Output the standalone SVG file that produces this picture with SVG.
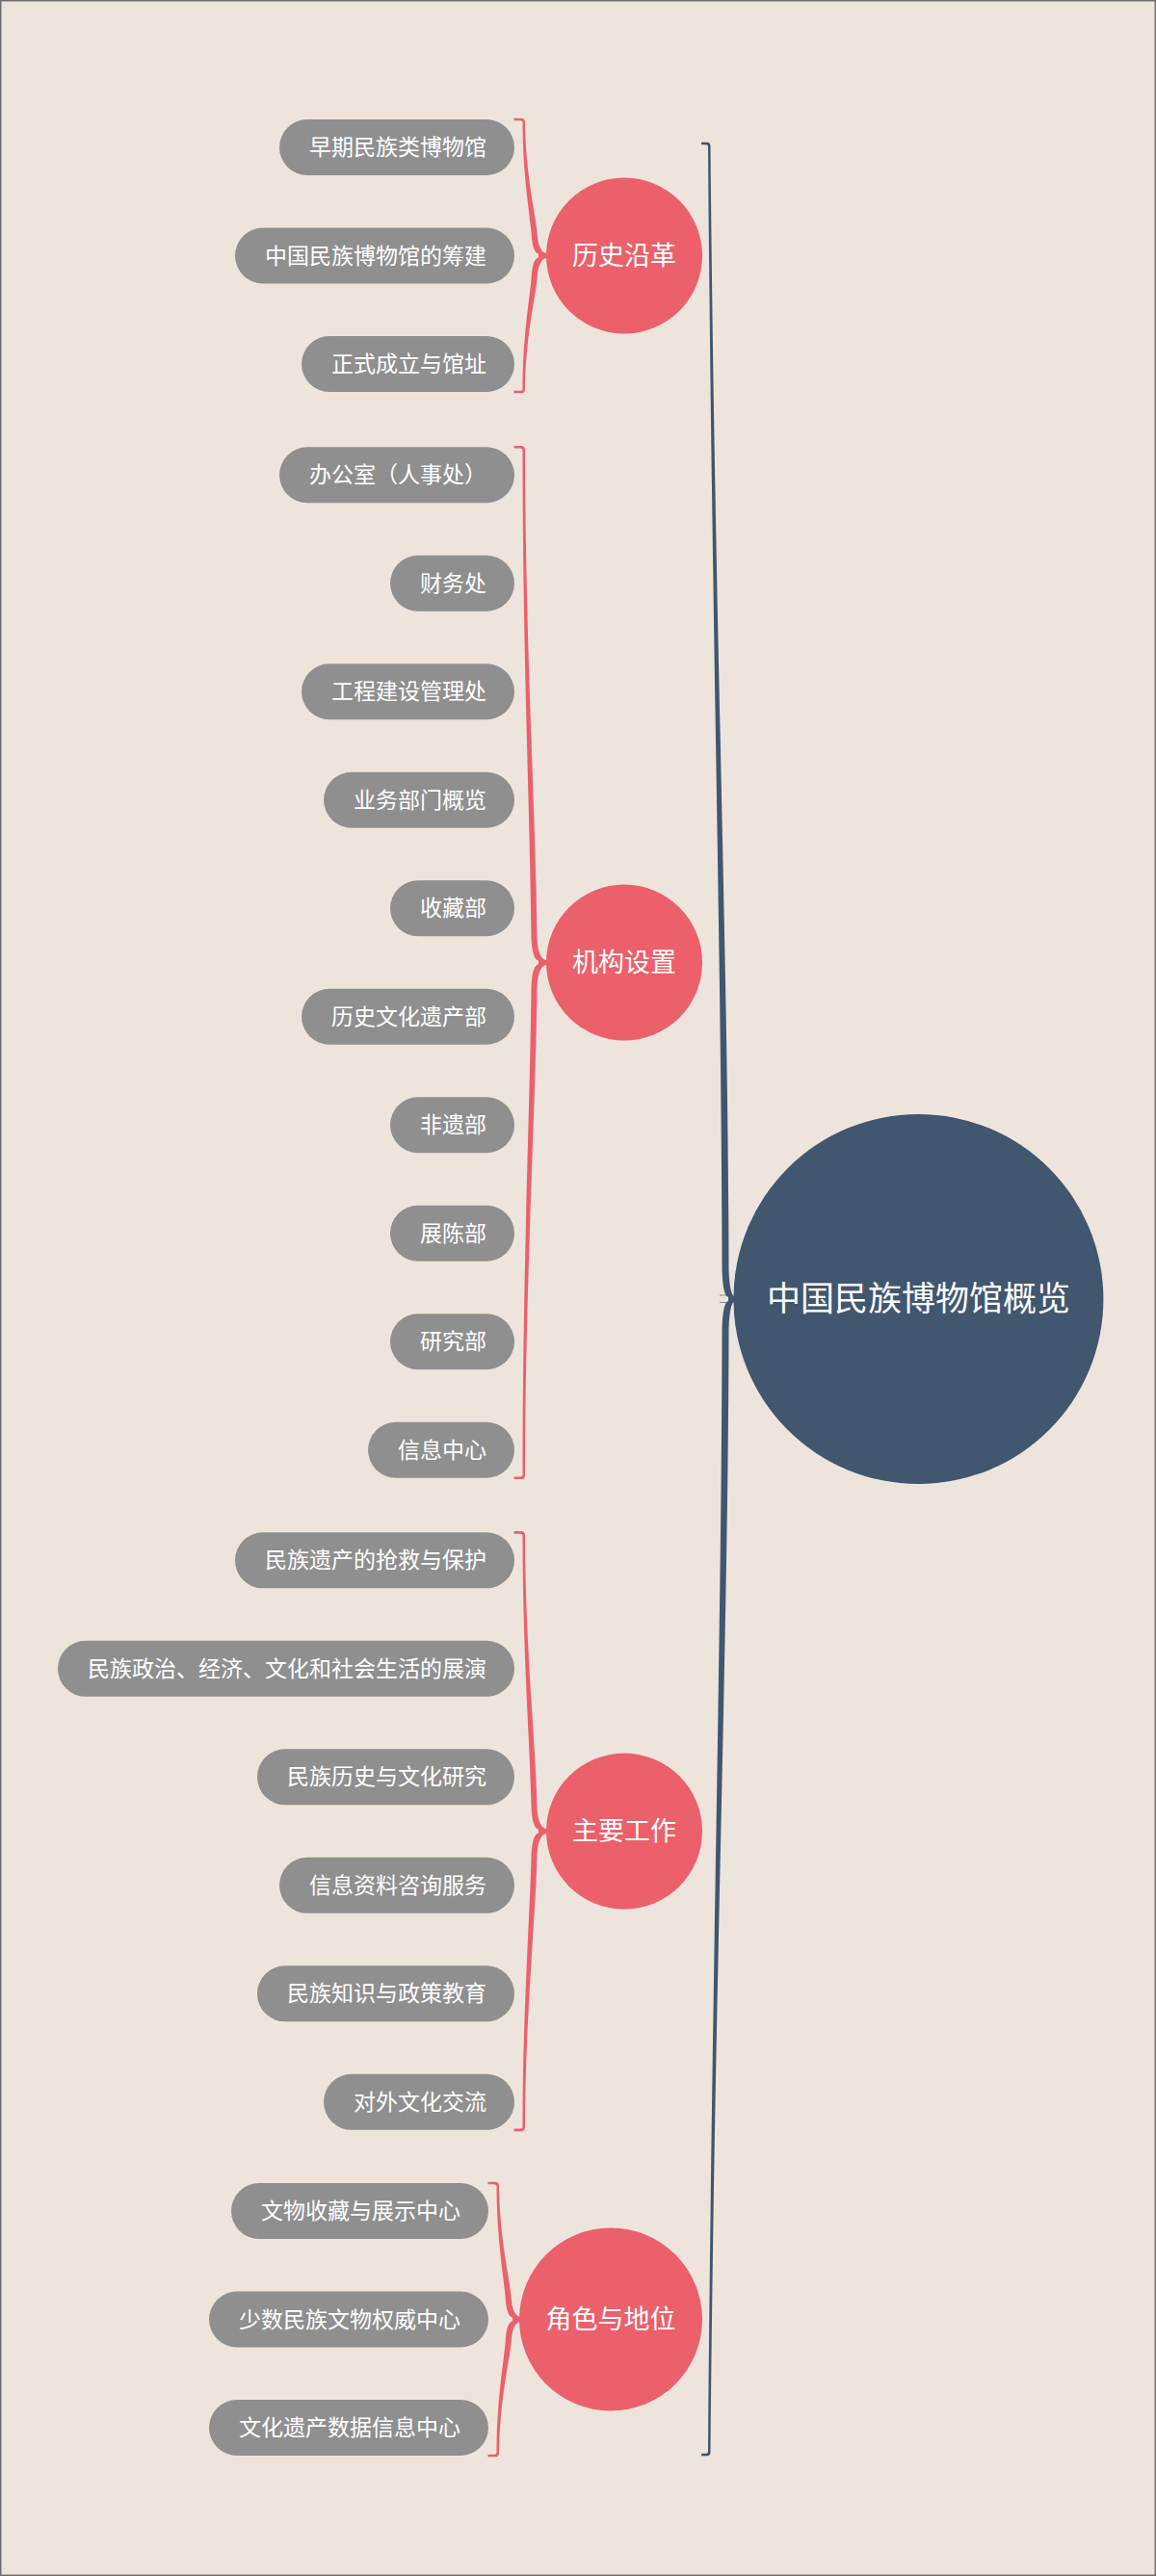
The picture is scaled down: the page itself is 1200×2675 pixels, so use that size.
<svg xmlns="http://www.w3.org/2000/svg" width="1200" height="2675" viewBox="0 0 1200 2675">
<style>
.bg{fill:#EDE5DC}
.frame{fill:none;stroke:#6e6e6e;stroke-width:1.5}
.pill{fill:#8F8F8F}
.pt{fill:#FFFFFF;font-family:"Noto Sans CJK SC","Noto Sans",sans-serif;font-size:23px;text-anchor:end}
.topic{fill:#EB606B}
.tt{fill:#FFFFFF;font-family:"Noto Sans CJK SC","Noto Sans",sans-serif;font-size:27px;text-anchor:middle}
.root{fill:#41566F}
.rt{fill:#FFFFFF;font-family:"Noto Sans CJK SC","Noto Sans",sans-serif;font-size:35px;text-anchor:middle}
.rb{fill:#EB606B}
.bb{fill:#41566F}
</style>
<rect class="bg" x="0" y="0" width="1200" height="2675"/>
<rect class="frame" x="0.75" y="0.75" width="1198.5" height="2673.5"/>

<g id="connectors">
  <path class="bb" transform="translate(0,1349)" d="M728,-1201.3 L734,-1201.3 Q737.5,-1201.3 737.5,-1197 C742,-700 756,-350 756.5,-30 Q757.5,-3 763,-2.5 L763,2.5 Q757.5,3 756.5,30 C756,350 742,700 737.5,1197 Q737.5,1201.3 734,1201.3 L728,1201.3 L728,1198.7 L733,1198.7 Q735,1198.7 735,1197 C739,700 749,350 749.5,30 Q750.5,3 756,2 L756,-2 Q750.5,-3 749.5,-30 C749,-350 739,-700 735,-1197 Q735,-1198.7 733,-1198.7 L728,-1198.7 Z"/>
  <path d="M747,1345 L757,1345 M747,1352.5 L757,1352.5" stroke="#41566F" stroke-width="1" opacity="0.6"/>
  <path class="rb" transform="translate(0,265.5)" d="M533.5,-142.8 L541,-142.8 Q545,-142.8 545,-138.5 C545.5,-84.9 556,-42.45 557.5,-25 Q558.5,-3 568,-2.2 L568,2.2 Q558.5,3 557.5,25 C556,42.45 545.5,84.9 545,138.5 Q545,142.8 541,142.8 L533.5,142.8 L533.5,140.2 L540,140.2 Q542.5,140.2 542.5,138.5 C542.5,84.9 550,42.45 551.5,25 Q552.5,3 559,1.8 L559,-1.8 Q552.5,-3 551.5,-25 C550,-42.45 542.5,-84.9 542.5,-138.5 Q542.5,-140.2 540,-140.2 L533.5,-140.2 Z"/>
  <path class="rb" transform="translate(0,999.5)" d="M533.5,-536.55 L541,-536.55 Q545,-536.55 545,-532.25 C545.5,-321.15 556,-160.6 557.5,-25 Q558.5,-3 568,-2.2 L568,2.2 Q558.5,3 557.5,25 C556,160.6 545.5,321.15 545,532.25 Q545,536.55 541,536.55 L533.5,536.55 L533.5,533.95 L540,533.95 Q542.5,533.95 542.5,532.25 C542.5,321.15 550,160.6 551.5,25 Q552.5,3 559,1.8 L559,-1.8 Q552.5,-3 551.5,-25 C550,-160.6 542.5,-321.15 542.5,-532.25 Q542.5,-533.95 540,-533.95 L533.5,-533.95 Z"/>
  <path class="rb" transform="translate(0,1901.6)" d="M533.5,-311.55 L541,-311.55 Q545,-311.55 545,-307.25 C545.5,-186.15 556,-93.1 557.5,-25 Q558.5,-3 568,-2.2 L568,2.2 Q558.5,3 557.5,25 C556,93.1 545.5,186.15 545,307.25 Q545,311.55 541,311.55 L533.5,311.55 L533.5,308.95 L540,308.95 Q542.5,308.95 542.5,307.25 C542.5,186.15 550,93.1 551.5,25 Q552.5,3 559,1.8 L559,-1.8 Q552.5,-3 551.5,-25 C550,-93.1 542.5,-186.15 542.5,-307.25 Q542.5,-308.95 540,-308.95 L533.5,-308.95 Z"/>
  <path class="rb" transform="translate(-27,2408.5)" d="M533.5,-142.8 L541,-142.8 Q545,-142.8 545,-138.5 C545.5,-84.9 556,-42.45 557.5,-25 Q558.5,-3 568,-2.2 L568,2.2 Q558.5,3 557.5,25 C556,42.45 545.5,84.9 545,138.5 Q545,142.8 541,142.8 L533.5,142.8 L533.5,140.2 L540,140.2 Q542.5,140.2 542.5,138.5 C542.5,84.9 550,42.45 551.5,25 Q552.5,3 559,1.8 L559,-1.8 Q552.5,-3 551.5,-25 C550,-42.45 542.5,-84.9 542.5,-138.5 Q542.5,-140.2 540,-140.2 L533.5,-140.2 Z"/>
</g>

<g id="root">
  <circle class="root" cx="953.4" cy="1349" r="192"/>
  <text class="rt" x="953.4" y="1361">中国民族博物馆概览</text>
</g>

<g id="topic-history">
  <circle class="topic" cx="648" cy="265.5" r="81"/>
  <text class="tt" x="648" y="275">历史沿革</text>
</g>
<g id="topic-org">
  <circle class="topic" cx="648" cy="999.5" r="81"/>
  <text class="tt" x="648" y="1009">机构设置</text>
</g>
<g id="topic-work">
  <circle class="topic" cx="648" cy="1901.6" r="81"/>
  <text class="tt" x="648" y="1911">主要工作</text>
</g>
<g id="topic-role">
  <circle class="topic" cx="634" cy="2408.5" r="95"/>
  <text class="tt" x="634" y="2418">角色与地位</text>
</g>

<g id="h1"><rect class="pill" x="290" y="124" width="244" height="58" rx="29"/><text class="pt" x="505" y="161">早期民族类博物馆</text></g>
<g id="h2"><rect class="pill" x="244" y="236.5" width="290" height="58" rx="29"/><text class="pt" x="505" y="273.5">中国民族博物馆的筹建</text></g>
<g id="h3"><rect class="pill" x="313" y="349" width="221" height="58" rx="29"/><text class="pt" x="505" y="386">正式成立与馆址</text></g>

<g id="o1"><rect class="pill" x="290" y="464.25" width="244" height="58" rx="29"/><text class="pt" x="505" y="501.25">办公室（人事处）</text></g>
<g id="o2"><rect class="pill" x="405" y="576.75" width="129" height="58" rx="29"/><text class="pt" x="505" y="613.75">财务处</text></g>
<g id="o3"><rect class="pill" x="313" y="689.25" width="221" height="58" rx="29"/><text class="pt" x="505" y="726.25">工程建设管理处</text></g>
<g id="o4"><rect class="pill" x="336" y="801.75" width="198" height="58" rx="29"/><text class="pt" x="505" y="838.75">业务部门概览</text></g>
<g id="o5"><rect class="pill" x="405" y="914.25" width="129" height="58" rx="29"/><text class="pt" x="505" y="951.25">收藏部</text></g>
<g id="o6"><rect class="pill" x="313" y="1026.75" width="221" height="58" rx="29"/><text class="pt" x="505" y="1063.75">历史文化遗产部</text></g>
<g id="o7"><rect class="pill" x="405" y="1139.25" width="129" height="58" rx="29"/><text class="pt" x="505" y="1176.25">非遗部</text></g>
<g id="o8"><rect class="pill" x="405" y="1251.75" width="129" height="58" rx="29"/><text class="pt" x="505" y="1288.75">展陈部</text></g>
<g id="o9"><rect class="pill" x="405" y="1364.25" width="129" height="58" rx="29"/><text class="pt" x="505" y="1401.25">研究部</text></g>
<g id="o10"><rect class="pill" x="382" y="1476.75" width="152" height="58" rx="29"/><text class="pt" x="505" y="1513.75">信息中心</text></g>

<g id="w1"><rect class="pill" x="244" y="1591.35" width="290" height="58" rx="29"/><text class="pt" x="505" y="1628.35">民族遗产的抢救与保护</text></g>
<g id="w2"><rect class="pill" x="60" y="1703.85" width="474" height="58" rx="29"/><text class="pt" x="505" y="1740.85">民族政治、经济、文化和社会生活的展演</text></g>
<g id="w3"><rect class="pill" x="267" y="1816.35" width="267" height="58" rx="29"/><text class="pt" x="505" y="1853.35">民族历史与文化研究</text></g>
<g id="w4"><rect class="pill" x="290" y="1928.85" width="244" height="58" rx="29"/><text class="pt" x="505" y="1965.85">信息资料咨询服务</text></g>
<g id="w5"><rect class="pill" x="267" y="2041.35" width="267" height="58" rx="29"/><text class="pt" x="505" y="2078.35">民族知识与政策教育</text></g>
<g id="w6"><rect class="pill" x="336" y="2153.85" width="198" height="58" rx="29"/><text class="pt" x="505" y="2190.85">对外文化交流</text></g>

<g id="r1"><rect class="pill" x="240" y="2267" width="267" height="58" rx="29"/><text class="pt" x="478" y="2304">文物收藏与展示中心</text></g>
<g id="r2"><rect class="pill" x="217" y="2379.5" width="290" height="58" rx="29"/><text class="pt" x="478" y="2416.5">少数民族文物权威中心</text></g>
<g id="r3"><rect class="pill" x="217" y="2492" width="290" height="58" rx="29"/><text class="pt" x="478" y="2529">文化遗产数据信息中心</text></g>
</svg>
